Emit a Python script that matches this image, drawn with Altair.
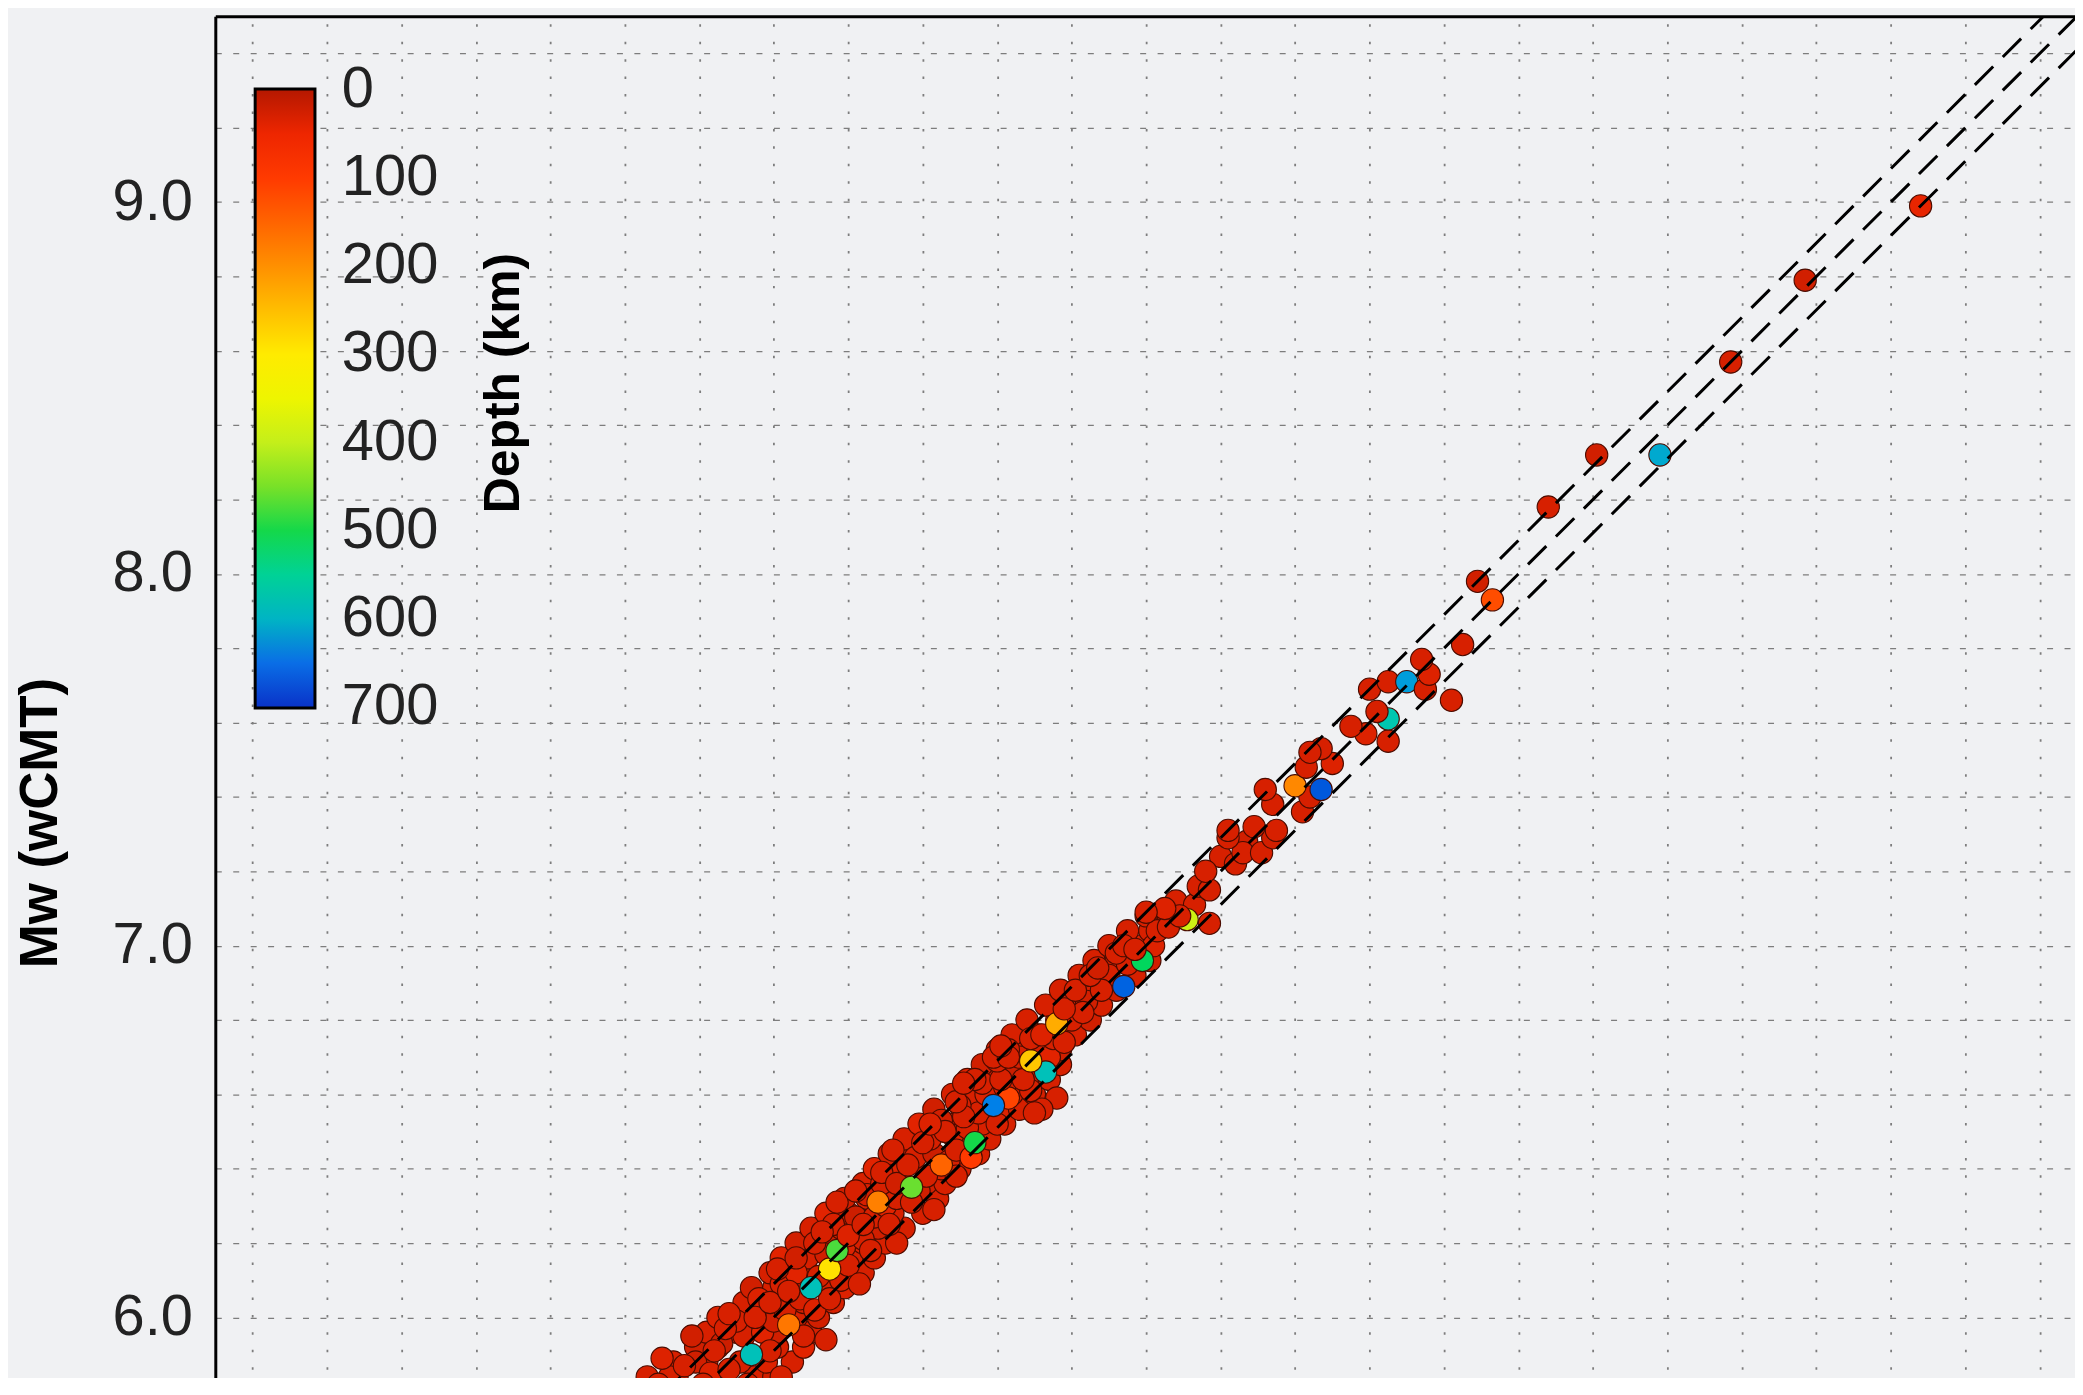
import altair as alt
import pandas as pd

# ---- scatter data: x = Mw (other catalogue), y = Mw (wCMT), depth in km ----
# dense band (read as the mass of overlapping shallow events)
band_x = [
    5.68, 5.76, 5.85, 5.92, 5.66, 5.74, 5.95, 6.00, 5.73, 5.82,
    5.98, 6.05, 5.79, 5.85, 6.01, 6.08, 5.82, 5.90, 6.01, 6.10,
    5.85, 5.93, 6.06, 6.12, 5.92, 5.99, 6.08, 6.16, 5.94, 6.00,
    6.14, 6.19, 5.99, 6.05, 6.17, 6.24, 6.02, 6.09, 6.21, 6.27,
    6.06, 6.15, 6.24, 6.30, 6.10, 6.18, 6.28, 6.35, 6.14, 6.20,
    6.32, 6.40, 6.19, 6.25, 6.36, 6.44, 6.24, 6.30, 6.41, 6.46,
    6.27, 6.33, 6.45, 6.50, 6.31, 6.37, 6.49, 6.55, 6.35, 6.42,
    6.53, 6.58, 6.39, 6.47, 6.56, 6.62, 6.43, 6.52, 6.61, 6.66,
    6.48, 6.54, 6.64, 6.70, 6.52, 6.58, 6.70, 6.74, 6.56, 6.63,
    6.73, 6.77, 6.60, 6.66, 6.77, 6.64, 6.71, 6.81, 6.68, 6.76,
    6.85, 6.73, 6.79, 6.88, 6.77, 6.84, 6.92, 6.82, 6.88, 6.97,
    6.86, 6.92, 7.01, 6.90, 6.97, 6.95, 7.01, 7.00, 7.06,
]
band_y = [
    5.80, 5.80, 5.80, 5.80, 5.84, 5.84, 5.84, 5.84, 5.88, 5.88,
    5.88, 5.88, 5.92, 5.92, 5.92, 5.92, 5.96, 5.96, 5.96, 5.96,
    6.00, 6.00, 6.00, 6.00, 6.04, 6.04, 6.04, 6.04, 6.08, 6.08,
    6.08, 6.08, 6.12, 6.12, 6.12, 6.12, 6.16, 6.16, 6.16, 6.16,
    6.20, 6.20, 6.20, 6.20, 6.24, 6.24, 6.24, 6.24, 6.28, 6.28,
    6.28, 6.28, 6.32, 6.32, 6.32, 6.32, 6.36, 6.36, 6.36, 6.36,
    6.40, 6.40, 6.40, 6.40, 6.44, 6.44, 6.44, 6.44, 6.48, 6.48,
    6.48, 6.48, 6.52, 6.52, 6.52, 6.52, 6.56, 6.56, 6.56, 6.56,
    6.60, 6.60, 6.60, 6.60, 6.64, 6.64, 6.64, 6.64, 6.68, 6.68,
    6.68, 6.68, 6.72, 6.72, 6.72, 6.76, 6.76, 6.76, 6.80, 6.80,
    6.80, 6.84, 6.84, 6.84, 6.88, 6.88, 6.88, 6.92, 6.92, 6.92,
    6.96, 6.96, 6.96, 7.00, 7.00, 7.04, 7.04, 7.08, 7.08,
]
band_depth = [
    30, 25, 35, 30, 30, 40, 30, 25, 30, 30,
    35, 30, 25, 30, 30, 40, 30, 30, 25, 30,
    35, 30, 30, 25, 30, 40, 30, 30, 25, 30,
    30, 35, 30, 30, 25, 30, 40, 30, 30, 30,
    25, 30, 35, 30, 30, 30, 25, 30, 40, 30,
    30, 30, 25, 30, 35, 30, 30, 30, 25, 30,
    40, 30, 30, 30, 25, 30, 35, 30, 30, 30,
    25, 30, 40, 30, 30, 30, 25, 30, 35, 30,
    30, 30, 25, 30, 40, 30, 30, 30, 25, 30,
    35, 30, 30, 30, 25, 30, 40, 30, 30, 30,
    25, 30, 35, 30, 30, 30, 25, 30, 40, 30,
    30, 30, 25, 30, 35, 30, 30, 30, 25,
]
# individually read events
mw_x = [
    5.72, 5.79, 5.83, 5.91, 5.86, 5.92, 5.97, 5.90, 6.00, 6.03,
    5.96, 6.07, 6.09, 6.02, 6.12, 6.06, 6.18, 6.14, 6.11, 6.19,
    6.24, 6.16, 6.22, 6.27, 6.30, 6.25, 6.33, 6.39, 6.29, 6.34,
    6.41, 6.38, 6.43, 6.47, 6.42, 6.48, 6.52, 6.45, 6.55, 6.50,
    6.57, 6.62, 6.56, 6.65, 6.66, 6.71, 6.74, 6.75, 6.80, 6.84,
    6.90, 6.95, 7.02, 7.08, 7.13, 7.20, 7.27, 6.76, 6.72, 5.64,
    5.72, 5.80, 5.88, 5.96,
    5.65, 5.69, 5.81, 5.93, 6.02, 5.70, 5.76, 5.88, 5.99, 5.84,
    5.78, 5.87, 5.94, 5.95, 5.88, 6.14, 6.08, 6.04, 5.99, 6.11,
    6.04, 6.15, 6.01, 6.06, 6.10, 6.20, 6.23, 6.15, 6.17, 6.26,
    6.33, 6.13, 6.20, 6.31, 6.24, 6.17, 6.22, 6.28, 6.43, 6.37,
    6.29, 6.33, 6.37, 6.49, 6.45, 6.36, 6.32, 6.40, 6.49, 6.53,
    6.54, 6.60, 6.46, 6.42, 6.51, 6.49, 6.70, 6.63, 6.59, 6.69,
    6.61, 6.54, 6.51, 6.67, 6.60, 6.63, 6.59, 6.73, 6.69, 6.63,
    6.61, 6.69, 6.78, 6.72, 6.76, 6.83, 6.78, 6.81, 6.88, 6.94,
    6.85, 6.87, 6.92, 6.94, 6.99, 6.97, 7.03, 7.06, 7.17, 7.11,
    7.09, 7.05, 7.00, 7.14, 7.17, 7.16, 7.24, 7.26, 7.31, 7.22,
    7.34, 7.35, 7.29, 7.22, 7.42, 7.34, 7.44, 7.32, 7.47, 7.40,
    7.43, 7.50, 7.47, 7.44, 7.65, 7.59, 7.55, 7.65, 7.62, 7.60,
    7.65, 7.70, 7.75, 7.82, 7.76, 7.74, 7.85, 7.93, 7.89, 8.08,
    8.21, 8.38, 8.57, 8.77, 9.08,
]
mw_y = [
    5.84, 5.88, 5.85, 5.88, 5.93, 5.95, 5.96, 5.99, 5.99, 6.02,
    6.05, 6.05, 6.10, 6.09, 6.11, 6.12, 6.10, 6.17, 6.20, 6.19,
    6.21, 6.25, 6.27, 6.27, 6.30, 6.33, 6.32, 6.34, 6.36, 6.39,
    6.38, 6.43, 6.44, 6.42, 6.48, 6.49, 6.51, 6.53, 6.55, 6.57,
    6.60, 6.62, 6.63, 6.66, 6.70, 6.72, 6.70, 6.75, 6.80, 6.85,
    6.92, 6.95, 7.00, 7.12, 7.11, 7.24, 7.28, 6.59, 6.56, 5.77,
    5.76, 5.78, 5.79, 5.80,
    5.80, 5.82, 5.82, 5.82, 5.84, 5.89, 5.87, 5.86, 5.91, 5.91,
    5.95, 5.97, 5.90, 6.00, 6.01, 5.94, 5.95, 5.98, 6.04, 6.02,
    6.07, 6.05, 6.13, 6.16, 6.08, 6.14, 6.09, 6.13, 6.18, 6.18,
    6.20, 6.23, 6.22, 6.25, 6.25, 6.31, 6.34, 6.31, 6.29, 6.31,
    6.39, 6.36, 6.35, 6.38, 6.41, 6.41, 6.45, 6.47, 6.45, 6.43,
    6.47, 6.52, 6.50, 6.52, 6.54, 6.58, 6.55, 6.59, 6.57, 6.61,
    6.64, 6.64, 6.63, 6.64, 6.69, 6.72, 6.70, 6.66, 6.69, 6.70,
    6.73, 6.75, 6.74, 6.76, 6.79, 6.82, 6.83, 6.88, 6.88, 6.89,
    6.92, 6.94, 6.98, 7.00, 6.96, 6.99, 7.04, 7.05, 7.06, 7.07,
    7.08, 7.10, 7.09, 7.16, 7.15, 7.20, 7.22, 7.25, 7.25, 7.29,
    7.29, 7.31, 7.32, 7.31, 7.36, 7.38, 7.40, 7.42, 7.42, 7.43,
    7.48, 7.49, 7.53, 7.52, 7.55, 7.57, 7.59, 7.61, 7.63, 7.69,
    7.71, 7.71, 7.69, 7.66, 7.73, 7.77, 7.81, 7.93, 7.98, 8.18,
    8.32, 8.32, 8.57, 8.79, 8.99,
]
depth_km = [
    30, 25, 35, 30, 20, 30, 40, 30, 25, 30,
    35, 30, 20, 30, 30, 40, 30, 25, 30, 35,
    30, 30, 20, 30, 40, 30, 30, 25, 30, 35,
    30, 30, 20, 30, 30, 40, 30, 25, 30, 30,
    35, 30, 30, 20, 30, 30, 40, 30, 30, 25,
    30, 30, 35, 30, 30, 30, 25, 30, 30, 30,
    30, 30, 25, 30,
    30, 30, 25, 30, 30, 35, 30, 30, 30, 30,
    25, 30, 580, 30, 30, 30, 30, 170, 30, 35,
    30, 30, 30, 25, 580, 30, 30, 290, 480, 30,
    30, 30, 35, 30, 30, 30, 30, 180, 30, 30,
    30, 25, 460, 30, 150, 30, 30, 30, 30, 100,
    500, 30, 30, 35, 30, 30, 30, 110, 640, 30,
    30, 30, 30, 30, 30, 25, 30, 580, 260, 30,
    30, 30, 30, 35, 230, 30, 30, 30, 30, 660,
    30, 25, 30, 30, 510, 30, 30, 30, 30, 390,
    30, 35, 30, 30, 30, 30, 30, 30, 30, 30,
    25, 30, 30, 30, 30, 30, 30, 30, 670, 190,
    30, 35, 30, 30, 30, 35, 30, 570, 30, 30,
    30, 620, 30, 30, 35, 30, 30, 120, 25, 30,
    25, 610, 30, 25, 45,
]

# ---- reference lines y = x + offset ----
line_x = [4.5, 9.5]
line_offsets = [0.09, 0.0, -0.09]

# ---- axes / colour bar ----
axis_min, axis_max = 4.5, 9.5
grid_values = [round(4.6 + 0.2 * i, 1) for i in range(25)]
depth_ticks = [0, 100, 200, 300, 400, 500, 600, 700]
cmap_depths = [-1, 50, 100, 150, 200, 250, 300, 350, 400, 450, 500, 550, 600, 650, 701]
cmap_colors = ["#b41800", "#ee2600", "#ff3a00", "#ff6400", "#ff9000", "#ffbe00",
               "#ffeb00", "#eef500", "#c4ef1a", "#78e128", "#14d84a", "#00d296",
               "#00b4c4", "#0a6ee6", "#0a32c8"]
legend_title = ["Depth (km)"]

pts = pd.DataFrame({
    "x": band_x + mw_x,
    "y": band_y + mw_y,
    "depth": band_depth + depth_km,
})
lines = pd.DataFrame(
    [{"x": xx, "y": xx + off, "k": i} for i, off in enumerate(line_offsets) for xx in line_x]
)
title_df = pd.DataFrame({"t": legend_title})

FONT = "Liberation Sans"
BG = "#f0f1f3"

x_scale = alt.Scale(domain=[axis_min, axis_max], nice=False, zero=False)
y_scale = alt.Scale(domain=[axis_min, axis_max], nice=False, zero=False)

x_enc = alt.X(
    "x:Q", scale=x_scale,
    axis=alt.Axis(orient="top", values=grid_values, labels=False, ticks=False,
                  domain=True, domainColor="#000000", domainWidth=3, title="",
                  grid=True, gridColor="#7d7d7d", gridWidth=1.8, gridDash=[2.5, 15]),
)
y_enc = alt.Y(
    "y:Q", scale=y_scale,
    axis=alt.Axis(
        values=grid_values,
        labelExpr="(datum.value > 5.9 && abs(datum.value - round(datum.value)) < 0.01) ? format(datum.value, '.1f') : ''",
        labelFont=FONT, labelFontSize=58, labelColor="#222222", labelPadding=23,
        labelOverlap=False,
        ticks=False, domain=True, domainColor="#000000", domainWidth=3,
        grid=True, gridColor="#7d7d7d", gridWidth=1.4, gridDash=[6, 11.5],
        title="Mw (wCMT)", titleFont=FONT, titleFontSize=53, titleFontWeight="bold",
        titleColor="#000000", titleAngle=270, titleX=-175, titleY=809,
        titleAlign="center", titleBaseline="middle",
    ),
)

color_enc = alt.Color(
    "negdepth:Q",
    scale=alt.Scale(domain=[-d for d in reversed(cmap_depths)],
                    range=list(reversed(cmap_colors)), clamp=True),
    legend=alt.Legend(
        orient="none", legendX=40, legendY=73, direction="vertical", padding=0,
        gradientLength=621, gradientThickness=60,
        gradientStrokeColor="#000000", gradientStrokeWidth=3,
        values=[-d for d in reversed(depth_ticks)],
        labelExpr="format(abs(datum.value), 'd')",
        labelFont=FONT, labelFontSize=58, labelColor="#222222", labelOffset=27,
        labelBaseline="middle", labelOverlap=False,
        title="",
    ),
)

points = alt.Chart(pts).transform_calculate(
    negdepth="-datum.depth"
).mark_circle(
    size=500, opacity=1, stroke="#4a0c00", strokeWidth=1.1, clip=True
).encode(x=x_enc, y=y_enc, color=color_enc)

ref_lines = alt.Chart(lines).mark_line(
    color="#000000", strokeWidth=3, strokeDash=[26, 13.6], clip=True
).encode(x=alt.X("x:Q", scale=x_scale), y=alt.Y("y:Q", scale=y_scale), detail="k:N")

legend_title_mark = alt.Chart(title_df).mark_text(
    angle=270, font=FONT, fontSize=50, fontWeight="bold", color="#000000",
    align="center", baseline="middle",
).encode(text="t:N", x=alt.value(290), y=alt.value(368))

chart = alt.layer(points, ref_lines, legend_title_mark).properties(
    width=1868, height=1865,
    padding={"left": 208, "top": 6, "right": -2, "bottom": -501},
    autosize=alt.AutoSizeParams(type="none"),
    background=BG,
).configure_view(
    strokeWidth=0, fill=BG
).configure(font=FONT)

chart.save("out.html", embed_options={"renderer": "svg", "actions": False})
